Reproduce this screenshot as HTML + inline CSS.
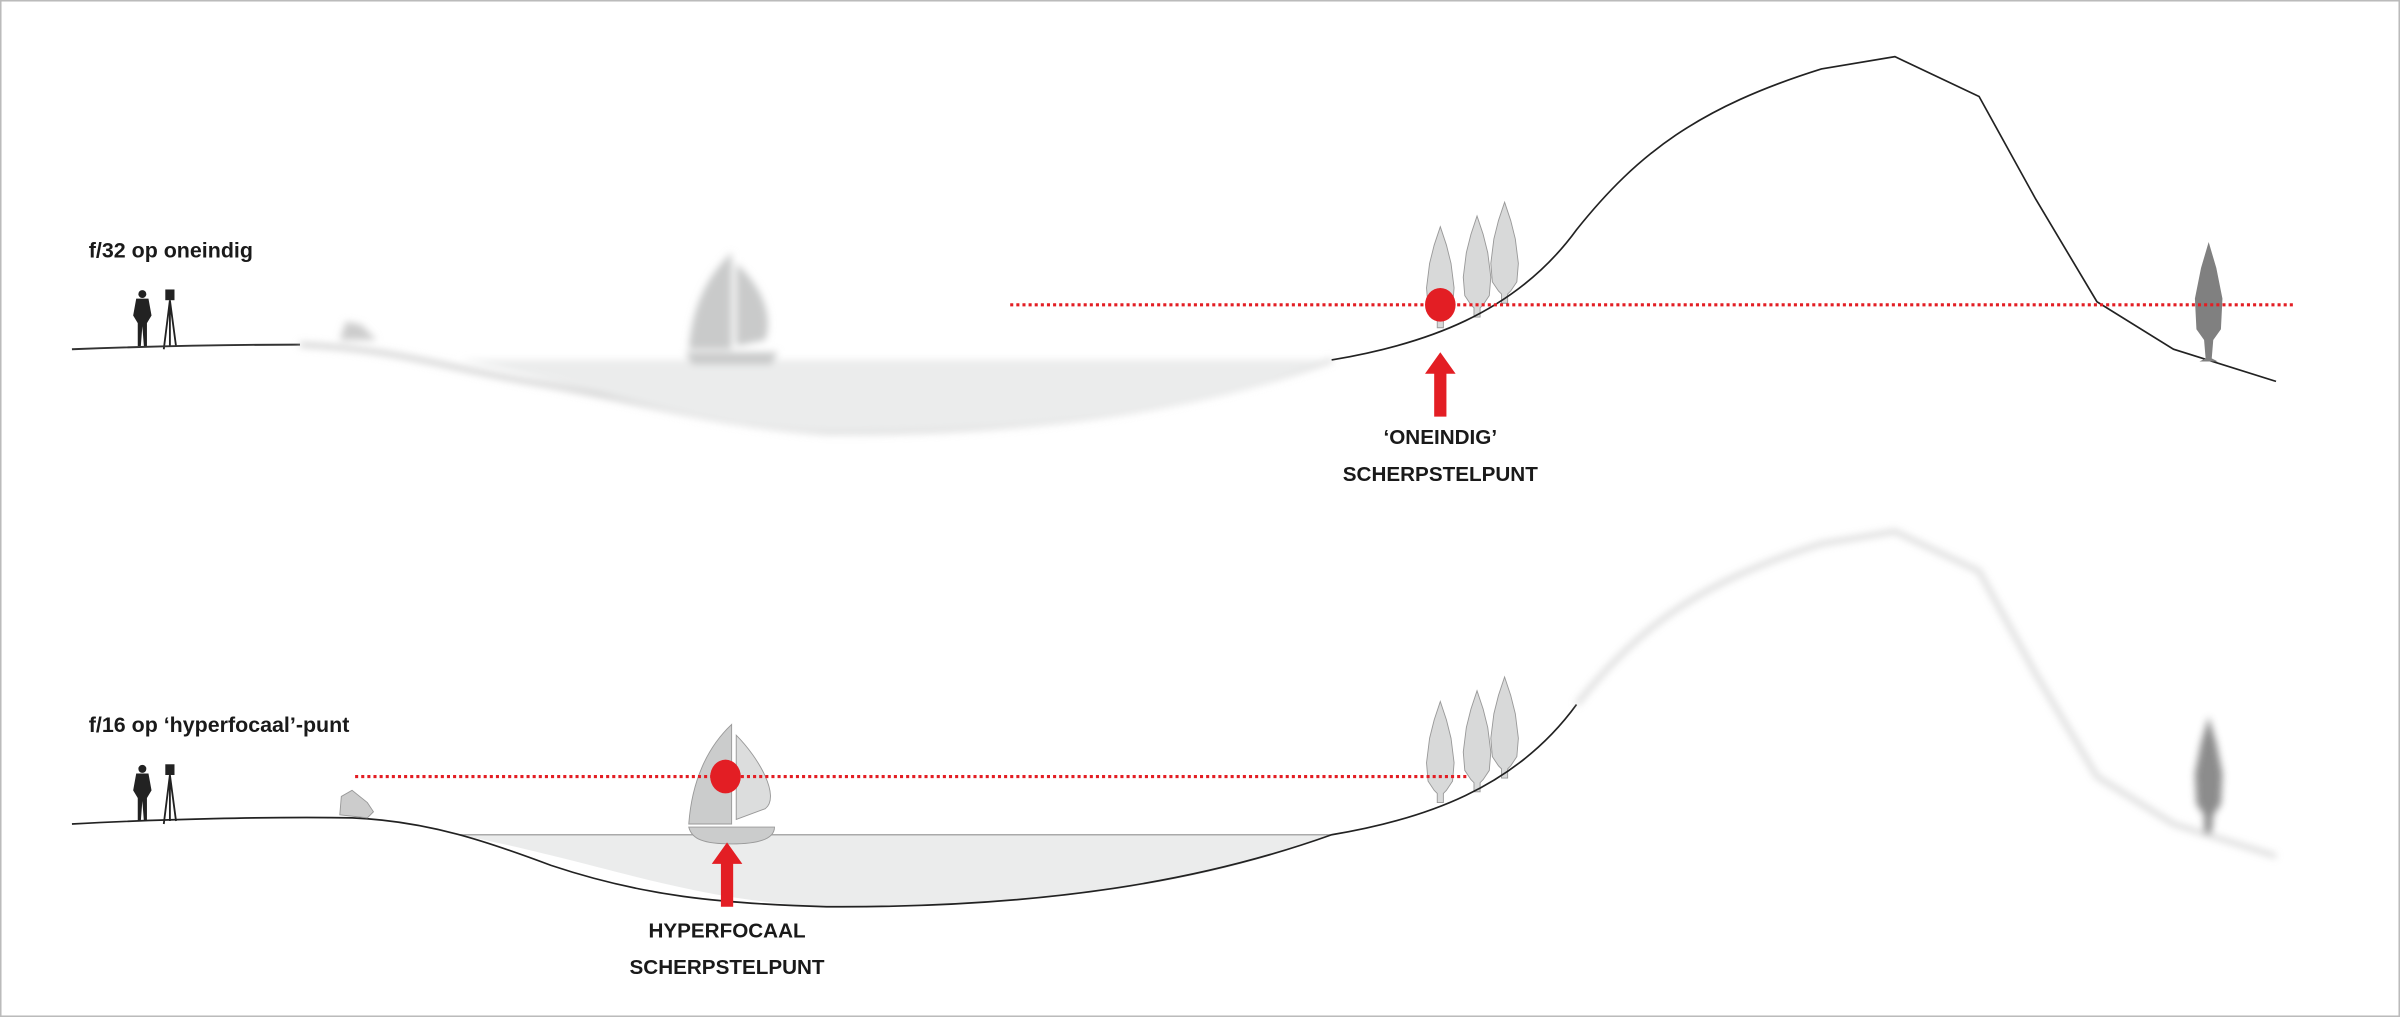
<!DOCTYPE html>
<html><head><meta charset="utf-8"><style>
html,body{margin:0;padding:0;background:#fff;width:2400px;height:1017px;overflow:hidden}
svg{display:block}
text{font-family:"Liberation Sans",sans-serif;font-weight:bold;fill:#1a1a1a}
</style></head><body>
<svg width="2400" height="1017" viewBox="0 0 1568 664" preserveAspectRatio="none" xmlns="http://www.w3.org/2000/svg">
<defs>
<filter id="b" x="-20%" y="-20%" width="140%" height="140%"><feGaussianBlur stdDeviation="2.5"/></filter>
<g id="tree"><path d="M0,-52 L4,-40 L7,-28 L9,-12 L8,0 L4,6 L2,8 L2,14 L-2,14 L-2,8 L-4,6 L-8,0 L-9,-12 L-7,-28 L-4,-40 Z" fill="#d8d9d9" stroke="#999" stroke-width="0.6"/></g>
<g id="person"><circle cx="0" cy="-34" r="2.6" fill="#222"/><path d="M-4,-31 L4,-31 L6,-20 L3,-15 L3,0 L1,0 L0,-13 L-1,0 L-3,0 L-3,-15 L-6,-20 Z" fill="#222"/>
<path d="M18,-30 L14,2 M18,-30 L22,0 M18,-30 L18,0" stroke="#222" stroke-width="1.2"/><rect x="15" y="-37" width="6" height="7" fill="#222"/></g>
<g id="arrow"><path d="M0,0 L10,14 L4,14 L4,42 L-4,42 L-4,14 L-10,14 Z" fill="#e31e24"/></g>
</defs>
<rect x="0.5" y="0.5" width="1567" height="663" fill="#fff" stroke="#bbb"/>

<!-- TOP PANEL -->
<text x="58" y="168" font-size="14">f/32 op oneindig</text>
<use href="#person" x="93" y="226"/>
<path d="M47,228 C100,226 150,225 196,225" stroke="#333" stroke-width="1.3" fill="none"/>
<g filter="url(#b)">
<path d="M196,225 C260,228 290,240 350,250 C420,262 470,278 540,282 C700,283 800,260 870,235" stroke="#ccc" stroke-width="3" fill="none"/>
<path d="M300,235 L870,235 C800,262 700,283 540,282 C450,278 400,255 300,235 Z" fill="#ebecec"/>
<path d="M222,222 L226,210 L236,212 L246,222 Z" fill="#ccc"/>
<path d="M478,165 L478,228 L450,228 C452,200 462,180 478,165 Z M481,172 C496,185 506,205 500,222 L481,226 Z" fill="#c9caca"/>
<path d="M448,230 L508,230 L504,238 L452,238 Z" fill="#c9caca"/>
</g>
<use href="#tree" x="941" y="200"/>
<use href="#tree" x="965" y="193"/>
<use href="#tree" x="983" y="184"/>
<path d="M870,235 C930,225 990,205 1030,150 C1070,100 1110,70 1190,45 L1238,37 L1293,63 L1330,130 L1370,197 L1420,228 L1487,249" stroke="#222" stroke-width="1.1" fill="none"/>
<path d="M1443,158 L1448,175 L1452,195 L1451,215 L1446,222 L1445,234 L1449,236 L1437,236 L1441,234 L1440,222 L1435,215 L1434,195 L1438,175 Z" fill="#808080"/>
<line x1="660" y1="199" x2="1500" y2="199" stroke="#e31e24" stroke-width="2" stroke-dasharray="2,2"/>
<ellipse cx="941" cy="199" rx="10" ry="11" fill="#e31e24"/>
<use href="#arrow" x="941" y="230"/>
<text x="941" y="290" font-size="13.5" text-anchor="middle">‘ONEINDIG’</text>
<text x="941" y="314" font-size="13.5" text-anchor="middle">SCHERPSTELPUNT</text>

<!-- BOTTOM PANEL -->
<text x="58" y="478" font-size="14">f/16 op ‘hyperfocaal’-punt</text>
<use href="#person" x="93" y="536"/>
<path d="M300,545 L870,545 C800,572 700,593 540,592 C450,588 400,565 300,545 Z" fill="#ebecec"/>
<line x1="300" y1="545" x2="870" y2="545" stroke="#aaa" stroke-width="1"/>
<use href="#tree" x="941" y="510"/>
<use href="#tree" x="965" y="503"/>
<use href="#tree" x="983" y="494"/>
<path d="M47,538 C100,535 180,533 230,534 C280,536 320,550 360,565 C420,585 470,590 540,592 C700,593 800,570 870,545 C930,535 990,515 1030,460" stroke="#222" stroke-width="1.1" fill="none"/>
<path d="M222,532 L223,520 L230,516 L240,524 L244,530 L240,534 Z" fill="#ccc" stroke="#999" stroke-width="0.6"/>
<path d="M478,473 L478,538 L450,538 C452,510 462,488 478,473 Z" fill="#cbcccc" stroke="#999" stroke-width="0.6"/>
<path d="M481,480 C496,495 510,520 500,528 L481,535 Z" fill="#dcdddd" stroke="#999" stroke-width="0.6"/>
<path d="M450,540 L506,540 C506,548 495,551 478,551 C460,551 452,548 450,540 Z" fill="#cbcccc" stroke="#999" stroke-width="0.6"/>
<g filter="url(#b)" opacity="0.8">
<path d="M1030,460 C1070,410 1110,380 1190,355 L1238,347 L1293,373 L1330,440 L1370,507 L1420,538 L1487,559" stroke="#ccc" stroke-width="3" fill="none"/>
<path d="M1443,468 L1448,485 L1452,505 L1451,525 L1446,532 L1445,544 L1440,544 L1440,532 L1435,525 L1434,505 L1438,485 Z" fill="#707070"/>
</g>
<line x1="232" y1="507" x2="960" y2="507" stroke="#e31e24" stroke-width="2" stroke-dasharray="2,2"/>
<ellipse cx="474" cy="507" rx="10" ry="11" fill="#e31e24"/>
<use href="#arrow" x="475" y="550"/>
<text x="475" y="612" font-size="13.5" text-anchor="middle">HYPERFOCAAL</text>
<text x="475" y="636" font-size="13.5" text-anchor="middle">SCHERPSTELPUNT</text>
</svg>
</body></html>
